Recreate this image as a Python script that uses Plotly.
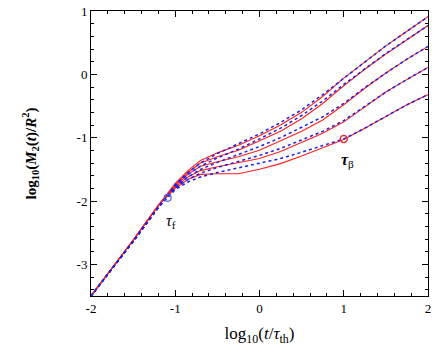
import plotly.graph_objects as go

x = [-2.0, -1.5, -1.2, -1.0, -0.85, -0.7, -0.5, -0.25, 0.0, 0.25, 0.5, 0.75, 1.0, 1.25, 1.5, 1.75, 2.0]

red_A = [-3.5, -2.62, -2.07, -1.72, -1.52, -1.36, -1.24, -1.12, -0.97, -0.80, -0.60, -0.35, -0.06, 0.20, 0.45, 0.68, 0.91]
red_B = [-3.5, -2.62, -2.07, -1.74, -1.55, -1.40, -1.30, -1.20, -1.05, -0.90, -0.70, -0.46, -0.18, 0.08, 0.32, 0.55, 0.77]
red_C = [-3.5, -2.62, -2.07, -1.76, -1.58, -1.45, -1.38, -1.30, -1.20, -1.05, -0.90, -0.72, -0.48, -0.22, 0.02, 0.24, 0.44]
red_D = [-3.5, -2.62, -2.07, -1.78, -1.62, -1.52, -1.46, -1.40, -1.33, -1.22, -1.08, -0.93, -0.75, -0.52, -0.28, -0.08, 0.11]
red_E = [-3.5, -2.62, -2.07, -1.80, -1.66, -1.58, -1.57, -1.57, -1.50, -1.41, -1.29, -1.16, -1.03, -0.85, -0.66, -0.48, -0.32]

blue_A = [-3.5, -2.64, -2.10, -1.74, -1.55, -1.40, -1.25, -1.10, -0.94, -0.76, -0.56, -0.32, -0.06, 0.20, 0.45, 0.68, 0.91]
blue_B = [-3.5, -2.64, -2.10, -1.76, -1.58, -1.45, -1.32, -1.18, -1.02, -0.85, -0.65, -0.42, -0.16, 0.09, 0.33, 0.55, 0.77]
blue_C = [-3.5, -2.64, -2.10, -1.78, -1.62, -1.50, -1.39, -1.27, -1.14, -1.00, -0.84, -0.67, -0.46, -0.21, 0.02, 0.24, 0.44]
blue_D = [-3.5, -2.64, -2.10, -1.80, -1.66, -1.56, -1.47, -1.38, -1.28, -1.17, -1.04, -0.90, -0.73, -0.51, -0.28, -0.08, 0.11]
blue_E = [-3.5, -2.64, -2.10, -1.82, -1.70, -1.62, -1.55, -1.48, -1.41, -1.33, -1.23, -1.13, -1.02, -0.85, -0.66, -0.48, -0.32]

tau_f = (-1.09, -1.95)
tau_beta = (1.0, -1.02)

x_ticks = [-2, -1, 0, 1, 2]
x_labels = ["-2", "-1", "0", "1", "2"]
y_ticks = [-3, -2, -1, 0, 1]
y_labels = ["-3", "-2", "-1", "0", "1"]

SERIF = "Liberation Serif, Times New Roman, serif"

fig = go.Figure()
for yr in [red_A, red_B, red_C, red_D, red_E]:
    fig.add_trace(go.Scatter(x=x, y=yr, mode="lines", line=dict(color="#ff2020", width=1.1),
                             showlegend=False))
for yb in [blue_A, blue_B, blue_C, blue_D, blue_E]:
    fig.add_trace(go.Scatter(x=x, y=yb, mode="lines", line=dict(color="#2020e0", width=1.5, dash="dot"),
                             showlegend=False))

fig.add_trace(go.Scatter(x=[tau_f[0]], y=[tau_f[1]], mode="markers",
                         marker=dict(symbol="circle-open", size=7, color="#5060e0", line=dict(width=1.2)),
                         showlegend=False))
fig.add_trace(go.Scatter(x=[tau_beta[0]], y=[tau_beta[1]], mode="markers",
                         marker=dict(symbol="circle-open", size=7, color="#e03040", line=dict(width=1.5)),
                         showlegend=False))

fig.add_annotation(x=-1.05, y=-2.32, text="<i>τ</i><sub>f</sub>", showarrow=False,
                   font=dict(family=SERIF, size=16, color="black"))
fig.add_annotation(x=1.05, y=-1.36, text="<b><i>τ</i></b><sub>β</sub>", showarrow=False,
                   font=dict(family=SERIF, size=16, color="black"))

axis_common = dict(showline=True, linecolor="black", linewidth=1, mirror="allticks",
                   ticks="inside", ticklen=6, tickwidth=1, tickcolor="black",
                   showgrid=False, zeroline=False, automargin=False,
                   tickfont=dict(family=SERIF, size=13, color="black"),
                   minor=dict(ticks="inside", ticklen=3, tickcolor="black", dtick=0.2, showgrid=False))

fig.update_xaxes(range=[-2, 2], tickvals=x_ticks, ticktext=x_labels,
                 title=dict(text="log<sub>10</sub>(<i>t</i>/<i>τ</i><sub>th</sub>)",
                            font=dict(family=SERIF, size=17, color="black"), standoff=12),
                 **axis_common)
fig.update_yaxes(range=[-3.5, 1], tickvals=y_ticks, ticktext=y_labels,
                 title=dict(text="<b>log<sub>10</sub>(<i>M</i><sub>2</sub>(<i>t</i>)/<i>R</i><sup>2</sup>)</b>",
                            font=dict(family=SERIF, size=15, color="black"), standoff=36),
                 **axis_common)

fig.update_layout(width=436, height=356, margin=dict(l=91, r=8, t=11, b=60),
                  plot_bgcolor="white", paper_bgcolor="white")

fig.write_html("out.html", config={"displayModeBar": False},
               post_script="document.body.style.margin='0';document.body.style.overflow='hidden';")
